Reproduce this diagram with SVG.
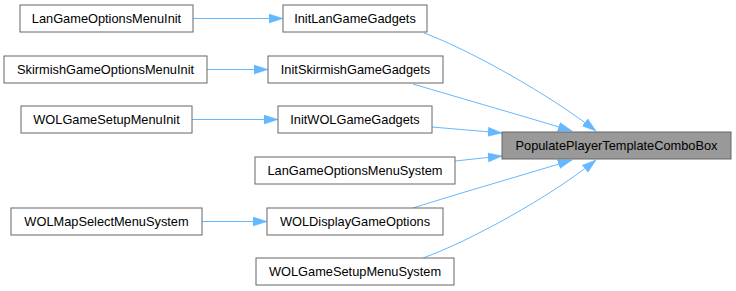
<svg xmlns="http://www.w3.org/2000/svg" width="736" height="291" viewBox="0 0 736 291">
  <style>
    .node rect { fill: #ffffff; stroke: #666666; stroke-width: 1; }
    .node.main rect { fill: #999999; }
    .node text { font-family: "Liberation Sans", Arial, Helvetica, sans-serif; font-size: 12.8px; fill: #000000; text-anchor: middle; }
    .edges path { fill: none; stroke: #63b8ff; stroke-width: 1; marker-end: url(#arrow); }
  </style>
  <defs>
    <marker id="arrow" viewBox="0 0 14 10" refX="14" refY="5" markerWidth="14" markerHeight="10" markerUnits="userSpaceOnUse" orient="auto">
      <path d="M0,0.5 L14,5 L0,9.5 Z" fill="#63b8ff" stroke="#63b8ff" stroke-width="0.5"/>
    </marker>
  </defs>
  <rect width="736" height="291" fill="#ffffff"/>

  <g class="edges" id="connectors">
    <path d="M193,18.5 L283,18.5"/>
    <path d="M207,69.5 L268,69.5"/>
    <path d="M192,119.5 L278,119.5"/>
    <path d="M202,221.5 L267,221.5"/>
    <path d="M424,33 C470,50 550,95 596,131"/>
    <path d="M413,84 C460,98 530,118 572,131"/>
    <path d="M432,127 L502,133"/>
    <path d="M455,161 L502,156"/>
    <path d="M413,208 C460,193 530,173 572,160"/>
    <path d="M423,258 C470,241 550,197 596,160"/>
  </g>

  <g class="node" id="LanGameOptionsMenuInit">
    <rect x="20" y="5" width="173" height="27"/>
    <text x="106.5" y="23">LanGameOptionsMenuInit</text>
  </g>
  <g class="node" id="InitLanGameGadgets">
    <rect x="283" y="5" width="144" height="27"/>
    <text x="355" y="23">InitLanGameGadgets</text>
  </g>
  <g class="node" id="SkirmishGameOptionsMenuInit">
    <rect x="4" y="56" width="203" height="27"/>
    <text x="105.5" y="74">SkirmishGameOptionsMenuInit</text>
  </g>
  <g class="node" id="InitSkirmishGameGadgets">
    <rect x="268" y="56" width="175" height="27"/>
    <text x="355.5" y="74">InitSkirmishGameGadgets</text>
  </g>
  <g class="node" id="WOLGameSetupMenuInit">
    <rect x="21" y="106" width="171" height="27"/>
    <text x="106.5" y="124">WOLGameSetupMenuInit</text>
  </g>
  <g class="node" id="InitWOLGameGadgets">
    <rect x="278" y="106" width="154" height="27"/>
    <text x="355" y="124">InitWOLGameGadgets</text>
  </g>
  <g class="node" id="LanGameOptionsMenuSystem">
    <rect x="255" y="157" width="200" height="27"/>
    <text x="355" y="175">LanGameOptionsMenuSystem</text>
  </g>
  <g class="node" id="WOLMapSelectMenuSystem">
    <rect x="11" y="208" width="191" height="27"/>
    <text x="106.5" y="226">WOLMapSelectMenuSystem</text>
  </g>
  <g class="node" id="WOLDisplayGameOptions">
    <rect x="267" y="208" width="176" height="27"/>
    <text x="355" y="226">WOLDisplayGameOptions</text>
  </g>
  <g class="node" id="WOLGameSetupMenuSystem">
    <rect x="256" y="258" width="198" height="27"/>
    <text x="355" y="276">WOLGameSetupMenuSystem</text>
  </g>
  <g class="node main" id="PopulatePlayerTemplateComboBox">
    <rect x="502" y="132" width="229" height="27"/>
    <text x="616.5" y="150">PopulatePlayerTemplateComboBox</text>
  </g>
</svg>
